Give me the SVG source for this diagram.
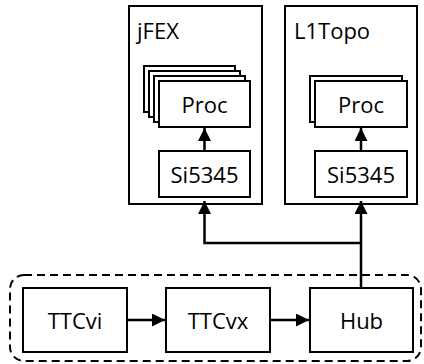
<svg xmlns="http://www.w3.org/2000/svg" width="424" height="364" viewBox="0 0 424 364">
  <style>
    .box { fill: #ffffff; stroke: #000000; stroke-width: 2; }
    .frame { fill: none; stroke: #000000; stroke-width: 2; }
    .dash { fill: none; stroke: #000000; stroke-width: 2; stroke-dasharray: 8 5; }
    .lbl { font-family: "Open Sans", "Noto Sans", sans-serif; font-size: 22px; fill: #000000; }
    .mid { text-anchor: middle; }
    .conn { fill: none; stroke: #000000; stroke-width: 2.5; marker-end: url(#arrow); }
  </style>
  <defs>
    <marker id="arrow" markerUnits="userSpaceOnUse" markerWidth="14" markerHeight="14" refX="13" refY="6.5" orient="auto">
      <path d="M0,0 L13,6.5 L0,13 Z" fill="#000000"/>
    </marker>
  </defs>

  <g id="ttc-group">
    <rect class="dash" x="10" y="275" width="411" height="86" rx="14" ry="14"/>
  </g>

  <g id="jfex">
    <rect class="frame" x="129" y="6" width="133" height="198"/>
    <text class="lbl" x="137" y="39">jFEX</text>
  </g>
  <g id="jfex-proc">
    <rect class="box" x="144" y="66" width="91" height="46"/>
    <rect class="box" x="149" y="71" width="91" height="46"/>
    <rect class="box" x="154" y="76" width="91" height="46"/>
    <rect class="box" x="159" y="81" width="91" height="46"/>
    <text class="lbl mid" x="204.5" y="113">Proc</text>
  </g>
  <g id="jfex-si5345">
    <rect class="box" x="159" y="151" width="91" height="46"/>
    <text class="lbl mid" x="204.5" y="183">Si5345</text>
  </g>

  <g id="l1topo">
    <rect class="frame" x="285" y="6" width="132" height="198"/>
    <text class="lbl" x="294" y="39">L1Topo</text>
  </g>
  <g id="l1topo-proc">
    <rect class="box" x="310" y="76" width="92" height="46"/>
    <rect class="box" x="315" y="81" width="92" height="46"/>
    <text class="lbl mid" x="361" y="113">Proc</text>
  </g>
  <g id="l1topo-si5345">
    <rect class="box" x="315" y="151" width="92" height="46"/>
    <text class="lbl mid" x="361" y="183">Si5345</text>
  </g>

  <g id="ttcvi">
    <rect class="box" x="23" y="288" width="104" height="64"/>
    <text class="lbl mid" x="75" y="329">TTCvi</text>
  </g>
  <g id="ttcvx">
    <rect class="box" x="166" y="288" width="104" height="64"/>
    <text class="lbl mid" x="218" y="329">TTCvx</text>
  </g>
  <g id="hub">
    <rect class="box" x="310" y="288" width="103" height="64"/>
    <text class="lbl mid" x="361.5" y="329">Hub</text>
  </g>

  <g id="connectors">
    <line class="conn" x1="204.5" y1="151" x2="204.5" y2="128"/>
    <line class="conn" x1="361" y1="151" x2="361" y2="128"/>
    <line class="conn" x1="361" y1="288" x2="361" y2="201"/>
    <polyline class="conn" points="361,243 204.5,243 204.5,201"/>
    <line class="conn" x1="127" y1="320" x2="165" y2="320"/>
    <line class="conn" x1="270" y1="320" x2="309" y2="320"/>
  </g>
</svg>
